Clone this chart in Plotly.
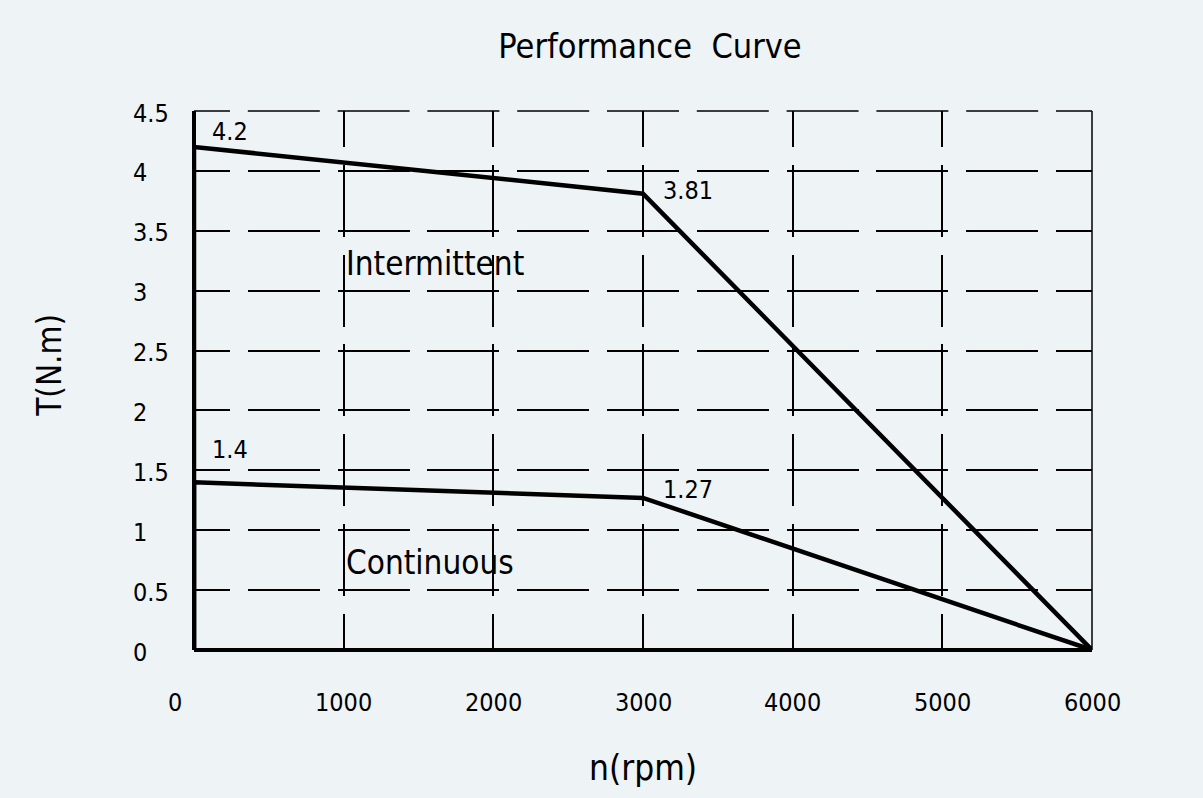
import plotly.graph_objects as go

# ---- data ----
speed_points = [0, 0, 3000, 6000]
intermittent_torque = [0, 4.2, 3.81, 0]
continuous_torque = [0, 1.4, 1.27, 0]
x_ticks = [0, 1000, 2000, 3000, 4000, 5000, 6000]
x_tick_labels = ["0", "1000", "2000", "3000", "4000", "5000", "6000"]
y_ticks = [0, 0.5, 1, 1.5, 2, 2.5, 3, 3.5, 4, 4.5]
y_tick_labels = ["0", "0.5", "1", "1.5", "2", "2.5", "3", "3.5", "4", "4.5"]
point_labels = [
    (0, 4.2, "4.2"), (3000, 3.81, "3.81"),
    (0, 1.4, "1.4"), (3000, 1.27, "1.27"),
]
region_labels = [(1000, 3.23, "Intermittent"), (1000, 0.73, "Continuous")]
x_range = [0, 6000]
y_range = [0, 4.5]

FONT = "DejaVu Sans Condensed, Liberation Sans Narrow, sans-serif"
BG = "#EEF3F6"

dash_list = ["36px", "17.8px"] + ["72px", "17.8px"] * 20
GRIDDASH = ",".join(dash_list)

fig = go.Figure()
fig.add_trace(go.Scatter(x=speed_points, y=intermittent_torque, mode="lines",
                         line=dict(color="black", width=4.5), cliponaxis=False,
                         showlegend=False, hoverinfo="skip"))
fig.add_trace(go.Scatter(x=speed_points, y=continuous_torque, mode="lines",
                         line=dict(color="black", width=4.5), cliponaxis=False,
                         showlegend=False, hoverinfo="skip"))

annotations = []
for v, t in zip(x_ticks, x_tick_labels):
    annotations.append(dict(x=v, y=0, xref="x", yref="paper", text=t, showarrow=False,
                            xanchor="center", yanchor="middle", yshift=-52,
                            xshift=-19 if v == 0 else 0,
                            font=dict(family=FONT, size=25, color="black")))
for v, t in zip(y_ticks, y_tick_labels):
    annotations.append(dict(x=0, y=v, xref="paper", yref="y", text=t, showarrow=False,
                            xanchor="left", yanchor="middle", xshift=-63, yshift=-2,
                            font=dict(family=FONT, size=25, color="black")))
for (x, y, t), (dx, dy) in zip(point_labels, [(16, 15), (18, 3), (16, 33), (18, 8)]):
    annotations.append(dict(x=x, y=y, xref="x", yref="y", text=t, showarrow=False,
                            xanchor="left", yanchor="middle", xshift=dx, yshift=dy,
                            font=dict(family=FONT, size=25, color="black")))
for x, y, t in region_labels:
    annotations.append(dict(x=x, y=y, xref="x", yref="y", text=t, showarrow=False,
                            xanchor="left", yanchor="middle", xshift=0,
                            font=dict(family=FONT, size=33, color="black")))
annotations.append(dict(x=0.5, y=-0.219, xref="paper", yref="paper",
                        text="n(rpm)", showarrow=False, xanchor="center", yanchor="middle",
                        font=dict(family=FONT, size=35, color="black")))
annotations.append(dict(x=-0.1604, y=0.529, xref="paper", yref="paper",
                        text="T(N.m)", showarrow=False, xanchor="center", yanchor="middle",
                        textangle=-90, font=dict(family=FONT, size=33, color="black")))

shapes = [
    # right border (solid) and top gridline (dashed)
    dict(type="line", xref="paper", yref="paper", x0=1, x1=1, y0=0, y1=1,
         line=dict(color="black", width=1.5)),
    dict(type="line", xref="paper", yref="paper", x0=0, x1=1, y0=1, y1=1,
         line=dict(color="black", width=1.5, dash=GRIDDASH)),
    # thick axis lines
    dict(type="line", xref="paper", yref="paper", x0=0, x1=0, y0=0, y1=1,
         line=dict(color="black", width=4)),
    dict(type="line", xref="paper", yref="paper", x0=0, x1=1, y0=0, y1=0,
         line=dict(color="black", width=4)),
]

fig.update_layout(
    width=1203, height=798,
    margin=dict(l=194, r=111, t=111, b=148),
    paper_bgcolor=BG, plot_bgcolor=BG,
    title=dict(text="Performance  Curve", x=650 / 1203, y=1 - 46 / 798,
               xanchor="center", yanchor="middle", xref="container", yref="container",
               font=dict(family=FONT, size=34, color="black")),
    annotations=annotations,
    shapes=shapes,
    xaxis=dict(range=x_range, tickvals=x_ticks, showticklabels=False, ticks="",
               showgrid=True, gridcolor="black", gridwidth=1.5, griddash=GRIDDASH,
               showline=False, zeroline=False, fixedrange=True),
    yaxis=dict(range=y_range, tickvals=y_ticks, showticklabels=False, ticks="",
               showgrid=True, gridcolor="black", gridwidth=1.5, griddash=GRIDDASH,
               showline=False, zeroline=False, fixedrange=True),
)

fig.write_html("out.html")
